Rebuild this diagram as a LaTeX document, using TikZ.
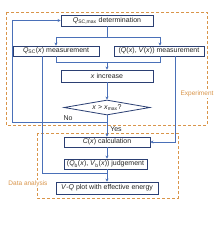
\documentclass[tikz,border=0pt]{standalone}
\usepackage{fontspec}
\setmainfont{Liberation Sans}
\usetikzlibrary{shapes.geometric,arrows.meta}
\definecolor{boxc}{HTML}{2B3F73}
\definecolor{linec}{HTML}{4A70B8}
\definecolor{dashc}{HTML}{D9954A}
\begin{document}
\begin{tikzpicture}[x=1pt,y=-1pt,
  every node/.style={font=\fontsize{7}{8}\selectfont, text=black!85},
  box/.style={draw=boxc, line width=0.8pt, inner sep=0pt, fill=white},
  con/.style={draw=linec, line width=0.9pt},
  arr/.style={con, -{Stealth[length=3pt,width=3pt]}},
  group/.style={draw=dashc, line width=0.8pt, dash pattern=on 3pt off 2pt},
  glabel/.style={text=dashc, fill=white, inner sep=1pt, font=\fontsize{6.5}{7}\selectfont}]
\useasboundingbox (0,0) rectangle (220,229);
% groups
\draw[group] (6,12) rectangle (207,125);
\draw[group] (37,133) rectangle (178,198);
\node[glabel] (lexp) at (197,94) {Experiment};
\node[glabel] (lda) at (28,184) {Data analysis};
% nodes
\node[box, minimum width=92pt, minimum height=11pt] (n1) at (107,20.5) {\textit{Q}\textsubscript{SC,max} determination};
\node[box, minimum width=86pt, minimum height=10pt] (n2) at (56,51) {\textit{Q}\textsubscript{SC}(\textit{x}) measurement};
\node[box, minimum width=90pt, minimum height=10pt] (n3) at (159,51) {(\textit{Q}(\textit{x}), \textit{V}(\textit{x})) measurement};
\node[box, minimum width=92pt, minimum height=12pt] (n4) at (107,76) {\textit{x} increase};
\node[box, diamond, aspect=5.7, minimum width=86pt, minimum height=15pt] (dia) at (107,107.5) {\textit{x} > \textit{x}\textsubscript{max}?};
\node[box, minimum width=86pt, minimum height=10pt] (n6) at (107,142) {\textit{C}(\textit{x}) calculation};
\node[box, minimum width=83pt, minimum height=10pt] (n7) at (105.5,164) {(\textit{Q}\textsubscript{b}(\textit{x}), \textit{V}\textsubscript{b}(\textit{x})) judgement};
\node[box, minimum width=102pt, minimum height=12pt] (n8) at (107,188) {\textit{V}-\textit{Q} plot with effective energy};
% split
\coordinate (sL) at (56,37);
\coordinate (sR) at (160,37);
\draw[con] (n1.south) -- (n1.south |- sL);
\draw[con] (sL) -- (sR);
\draw[arr] (sL) -- (sL |- n2.north);
\draw[arr] (sR) -- (sR |- n3.north);
% merge
\coordinate (mL) at (56,62);
\coordinate (mR) at (160,62);
\draw[con] (mL |- n2.south) -- (mL) -- (mR) -- (mR |- n3.south);
\draw[arr] (n4.north |- mL) -- (n4.north);
\draw[arr] (n4.south) -- (dia.north);
% decision
\coordinate (j) at (107,122);
\coordinate (lb) at (12,122);
\coordinate (lt) at (12,20.5);
\draw[con] (dia.south) -- (j);
\draw[arr] (j) -- (n6.north);
\draw[arr] (j) -- (lb) -- (lt) -- (n1.west);
\node (no) at (68,118) {No};
\node (yes) at (116,129) {Yes};
% data lines
\coordinate (qa) at (42,173);
\coordinate (jb) at (107,173);
\draw[con] (qa |- n2.south) -- (qa) -- (jb);
\coordinate (qv) at (175,142);
\draw[arr] (qv |- n3.south) -- (qv) -- (n6.east);
\draw[arr] (n6.south) -- (n6.south |- n7.north);
\draw[arr] (n7.south -| jb) -- (jb |- n8.north);
\end{tikzpicture}
\end{document}
